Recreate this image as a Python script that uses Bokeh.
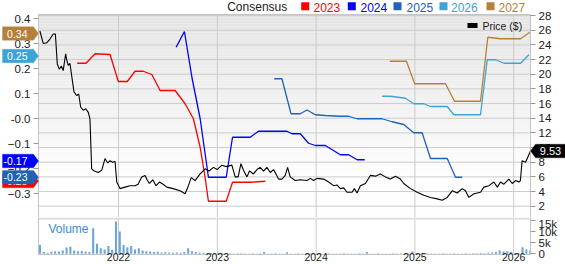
import numpy as np
from bokeh.plotting import figure
from bokeh.models import (Range1d, LinearAxis, FixedTicker, Label, BoxAnnotation,
                          PolyAnnotation, Grid)
from bokeh.layouts import column
from bokeh.embed import file_html
from bokeh.resources import INLINE

FONT = "Liberation Sans"

# ---------------- data ----------------
price_dates = [2021.204, 2021.238, 2021.275, 2021.306, 2021.339, 2021.361, 2021.380, 2021.400,
               2021.422, 2021.440, 2021.465, 2021.475, 2021.491, 2021.508, 2021.526, 2021.549,
               2021.576, 2021.597, 2021.617, 2021.643, 2021.668, 2021.694, 2021.711, 2021.728,
               2021.755, 2021.795, 2021.830, 2021.863, 2021.891, 2021.914, 2021.941, 2021.965,
               2021.982, 2022.015, 2022.066, 2022.117, 2022.167, 2022.198, 2022.235, 2022.269,
               2022.289, 2022.312, 2022.347, 2022.380, 2022.414, 2022.451, 2022.489, 2022.552,
               2022.623, 2022.674, 2022.708, 2022.735, 2022.775, 2022.826, 2022.877, 2022.917,
               2022.961, 2022.998, 2023.046, 2023.090, 2023.147, 2023.181, 2023.211, 2023.239,
               2023.265, 2023.300, 2023.326, 2023.366, 2023.401, 2023.434, 2023.468, 2023.502,
               2023.536, 2023.569, 2023.620, 2023.654, 2023.688, 2023.711, 2023.738, 2023.789,
               2023.840, 2023.908, 2023.941, 2023.975, 2024.009, 2024.076, 2024.127, 2024.177,
               2024.211, 2024.245, 2024.279, 2024.313, 2024.364, 2024.387, 2024.415, 2024.448,
               2024.499, 2024.549, 2024.600, 2024.651, 2024.701, 2024.752, 2024.803, 2024.853,
               2024.887, 2024.955, 2025.023, 2025.090, 2025.158, 2025.226, 2025.276, 2025.327,
               2025.378, 2025.428, 2025.479, 2025.512, 2025.546, 2025.597, 2025.664, 2025.698,
               2025.749, 2025.799, 2025.834, 2025.867, 2025.901, 2025.951, 2025.985, 2026.019,
               2026.053, 2026.068, 2026.085, 2026.120, 2026.137, 2026.170]
price_close = [25.9, 24.2, 24.3, 24.8, 25.5, 25.5, 21.4, 20.7,
               21.1, 20.5, 22.8, 22.0, 21.2, 21.5, 19.8, 17.6,
               17.1, 17.3, 15.5, 15.1, 15.3, 14.8, 13.9, 7.1,
               6.8, 6.6, 6.9, 8.5, 7.9, 8.2, 8.0, 8.1,
               5.3, 4.4, 4.6, 4.8, 4.8, 5.0, 6.0, 6.2,
               5.6, 5.1, 5.6, 4.8, 5.3, 5.0, 4.6, 4.4,
               4.1, 3.7, 4.8, 5.9, 5.5, 6.4, 7.1, 6.8,
               7.3, 7.0, 7.6, 7.4, 7.6, 6.0, 6.0, 7.8,
               6.9, 6.0, 6.8, 6.4, 7.0, 7.3, 6.8, 7.3,
               6.6, 7.0, 5.7, 5.7, 6.2, 7.3, 6.0, 5.5,
               5.6, 5.5, 5.8, 5.5, 5.8, 5.7, 5.3, 4.8,
               4.9, 4.4, 4.5, 3.9, 3.9, 4.4, 3.8, 4.8,
               5.1, 6.2, 6.1, 6.4, 6.0, 5.7, 6.1, 5.7,
               5.1, 4.4, 3.9, 3.5, 3.2, 3.0, 2.8, 3.2,
               4.1, 3.8, 4.4, 4.1, 3.2, 3.7, 3.9, 4.6,
               4.8, 5.3, 4.6, 5.3, 5.0, 5.7, 5.1, 5.5,
               5.3, 5.5, 8.2, 8.0, 8.5, 9.53]
last_price = 9.53

eps_2023_dates = [2021.582, 2021.671, 2021.762, 2021.914, 2021.998, 2022.089, 2022.167, 2022.251,
                  2022.337, 2022.421, 2022.573, 2022.674, 2022.758, 2022.826, 2022.877, 2022.910,
                  2023.090, 2023.154, 2023.333, 2023.485]
eps_2023 = [0.221, 0.221, 0.259, 0.256, 0.148, 0.148, 0.189, 0.189,
            0.176, 0.112, 0.112, 0.059, -0.001, -0.115, -0.237, -0.331,
            -0.331, -0.255, -0.255, -0.251]

eps_2024_dates = [2022.583, 2022.667, 2022.745, 2022.826, 2022.910, 2023.090, 2023.154, 2023.333,
                  2023.417, 2023.705, 2023.756, 2023.840, 2023.924, 2023.992, 2024.093, 2024.245,
                  2024.329, 2024.415, 2024.492]
eps_2024 = [0.285, 0.348, 0.160, 0.000, -0.235, -0.235, -0.075, -0.075,
            -0.051, -0.051, -0.061, -0.061, -0.099, -0.108, -0.108, -0.145,
            -0.145, -0.165, -0.165]

eps_2025_dates = [2023.576, 2023.654, 2023.746, 2023.840, 2023.908, 2023.992, 2024.093, 2024.228,
                  2024.329, 2024.415, 2024.668, 2024.769, 2024.887, 2024.988, 2025.073, 2025.158,
                  2025.327, 2025.411, 2025.479]
eps_2025 = [0.159, 0.159, 0.019, 0.019, 0.034, 0.015, 0.012, 0.009,
            0.009, -0.001, -0.001, -0.013, -0.024, -0.057, -0.057, -0.160,
            -0.160, -0.235, -0.235]

eps_2026_dates = [2024.668, 2024.752, 2024.904, 2024.988, 2025.090, 2025.158, 2025.327, 2025.394,
                  2025.664, 2025.732, 2025.817, 2025.901, 2026.070, 2026.154]
eps_2026 = [0.089, 0.089, 0.081, 0.059, 0.059, 0.048, 0.048, 0.015,
            0.015, 0.235, 0.235, 0.221, 0.221, 0.255]

eps_2027_dates = [2024.745, 2024.914, 2024.998, 2025.310, 2025.401, 2025.664, 2025.738, 2025.867,
                  2026.070, 2026.164]
eps_2027 = [0.229, 0.229, 0.139, 0.139, 0.069, 0.069, 0.325, 0.319,
            0.319, 0.345]

# consensus value tags on the left axis (latest value of each series)
tag_values = [-0.25, -0.235, -0.17, 0.25, 0.34]
tag_texts = ["-0.25", "-0.23", "-0.17", "0.25", "0.34"]

# biweekly volume, thousands of shares
vol_first = 2021.205
vol_step = 1 / 26
volume_k = [4.0, 0.8, 0.5, 0.9, 1.2, 1.0, 1.5, 2.8, 3.2, 1.5,
            1.2, 1.3, 1.0, 0.8, 11.5, 4.5, 2.5, 2.0, 3.5, 1.8,
            14.5, 10.0, 4.0, 3.0, 3.5, 2.0, 2.5, 1.5, 1.2, 1.0,
            0.8, 0.9, 0.6, 0.7, 0.6, 0.5, 0.6, 0.5, 0.8, 2.5,
            1.2, 0.8, 0.6, 0.5, 0.4, 0.4, 0.3, 0.4, 0.3, 0.3,
            0.3, 0.2, 0.3, 0.3, 0.2, 0.2, 0.3, 0.2, 0.3, 0.8,
            0.2, 0.2, 0.3, 0.2, 0.2, 0.7, 0.2, 0.2, 0.3, 0.2,
            0.2, 0.2, 0.3, 0.2, 0.2, 0.2, 0.3, 0.2, 0.2, 0.2,
            0.3, 0.2, 0.2, 0.2, 0.3, 0.2, 0.8, 0.2, 0.2, 0.3,
            0.2, 0.2, 0.2, 0.3, 0.2, 0.2, 0.3, 0.2, 1.0, 0.3,
            0.2, 0.2, 0.3, 0.2, 0.2, 0.2, 0.3, 0.2, 0.2, 0.3,
            0.2, 0.2, 0.3, 0.2, 0.3, 0.3, 0.4, 0.3, 0.5, 0.6,
            0.8, 1.5, 1.0, 1.2, 0.8, 0.4, 0.3, 3.0, 2.0, 1.5]
vol_dates = [vol_first + i * vol_step for i in range(len(volume_k))]

year_ticks = [2022, 2023, 2024, 2025, 2026]
price_ticks = [2, 4, 6, 8, 10, 12, 14, 16, 18, 20, 22, 24, 26, 28]
eps_ticks = [-0.3, -0.2, -0.1, 0.0, 0.1, 0.2, 0.3, 0.4]
vol_ticks = [0, 5, 10, 15]
series_years = ["2023", "2024", "2025", "2026", "2027"]

# ---------------- styles / geometry ----------------
C2023, C2024, C2025, C2026, C2027 = "#ff0000", "#0000ff", "#1f62b8", "#3fa2d4", "#b5813a"
GRID = "#cbcbcb"
EDGE = "#c4c4c4"
TXT = "#1a1a1a"
W = 565
PH, VH = 217, 47                      # heights of price and volume canvases
PL, PR, PT = 38, 530, 14              # plot-area edges inside the price canvas
XL, XR = 2021.19, 2026.17             # dates at plot-area left/right
PY0, PY1 = 0.46, 28.15                # price at plot-area bottom/top
EY0, EY1 = -0.396, 0.416              # eps at plot-area bottom/top
VY0, VY1 = -0.3, 16.35                # volume (k) at volume-area bottom/top
VB = 10                               # px below the volume area for the year labels

kx = (PR - PL) / (XR - XL)
x_range = Range1d(XL - PL / kx, XR + (W - PR) / kx)
ky = (PH - PT) / (PY1 - PY0)
ke = (PH - PT) / (EY1 - EY0)
kv = (VH - VB) / (VY1 - VY0)


def price_to_eps(val):
    return EY0 + (val - PY0) * (EY1 - EY0) / (PY1 - PY0)


def strip_grids(fig):
    fig.center = [r for r in fig.center if not isinstance(r, Grid)]


# ================= price / consensus panel =================
# default y range = consensus EPS (left axis); extra range = price (right axis)
p = figure(width=W, height=PH, x_range=x_range, y_range=Range1d(EY0, EY1 + PT / ke),
           output_backend="svg", toolbar_location=None, x_axis_location=None,
           y_axis_location=None, min_border=0)
p.extra_y_ranges = {"price": Range1d(PY0, PY1 + PT / ky)}
p.outline_line_color = None
p.background_fill_color = "white"
p.border_fill_color = "white"
strip_grids(p)

# background gradient (light grey at the top fading to white), drawn as thin bands
nb = 68
edges = np.linspace(EY0, EY1, nb + 1)
band_cols = []
for j in range(nb):
    from_top = 1 - (j + 0.5) / nb
    frac = min(1.0, from_top / 0.8)
    c = int(round(228 + (254 - 228) * frac))
    band_cols.append("#%02x%02x%02x" % (c, c, c))
p.quad(left=XL, right=XR, bottom=edges[:-1], top=edges[1:], fill_color=band_cols,
       line_color=None)

# grid lines and frame
p.segment(x0=XL, x1=XR, y0=price_ticks, y1=price_ticks, y_range_name="price",
          line_color=GRID, line_width=1)
p.segment(x0=year_ticks, x1=year_ticks, y0=EY0, y1=EY1, line_color=GRID, line_width=1)
p.quad(left=XL, right=XR, bottom=EY0, top=EY1, fill_color=None, line_color=EDGE, line_width=1)

# axes placed at the plot-area edges
la = LinearAxis(ticker=FixedTicker(ticks=eps_ticks), fixed_location=XL, bounds=(EY0, EY1))
la.major_label_overrides = {0: "-0.0"}
p.add_layout(la, "left")
ra = LinearAxis(y_range_name="price", ticker=FixedTicker(ticks=price_ticks),
                fixed_location=XR, bounds=(PY0, PY1))
p.add_layout(ra, "right")
for ax in (ra, la):
    ax.axis_line_color = EDGE
    ax.major_tick_line_color = "#999999"
    ax.major_tick_out = 5
    ax.major_tick_in = 0
    ax.minor_tick_line_color = None
    ax.major_label_standoff = 3
    ax.major_label_text_font = FONT
    ax.major_label_text_font_size = "11.5px"
    ax.major_label_text_color = TXT

# consensus lines
for xs, ys, col in [(eps_2023_dates, eps_2023, C2023), (eps_2024_dates, eps_2024, C2024),
                    (eps_2025_dates, eps_2025, C2025), (eps_2026_dates, eps_2026, C2026),
                    (eps_2027_dates, eps_2027, C2027)]:
    p.line(xs, ys, line_color=col, line_width=1.3)

# price line
p.line(price_dates, price_close, y_range_name="price", line_color="black", line_width=1.1)

# "Price ($)" key
p.add_layout(BoxAnnotation(left=467, right=477, bottom=PH - 27.5, top=PH - 22.5,
                           left_units="screen", right_units="screen", bottom_units="screen",
                           top_units="screen", fill_color="black", fill_alpha=1,
                           line_color=None))
p.add_layout(Label(x=482, x_units="screen", y=PH - 25, y_units="screen", text="Price ($)",
                   text_font=FONT, text_font_size="10.5px", text_color=TXT,
                   text_baseline="middle", text_align="left"))

# header: Consensus + coloured keys
p.add_layout(Label(x=226.7, x_units="screen", y=PH - 6.5, y_units="screen", text="Consensus",
                   text_font=FONT, text_font_size="12px", text_color=TXT,
                   text_baseline="middle", text_align="left"))
sq_left = [300.7, 347.3, 393.0, 439.0, 486.0]
txt_left = [313.0, 360.0, 406.0, 450.5, 498.0]
for col, yr, sl, tl in zip([C2023, C2024, C2025, C2026, C2027], series_years, sq_left, txt_left):
    p.add_layout(BoxAnnotation(left=sl, right=sl + 8, bottom=PH - 9.7, top=PH - 1.7,
                               left_units="screen", right_units="screen",
                               bottom_units="screen", top_units="screen",
                               fill_color=col, fill_alpha=1, line_color=None))
    p.add_layout(Label(x=tl, x_units="screen", y=PH - 6.5, y_units="screen", text=yr,
                       text_font=FONT, text_font_size="12px", text_color=col,
                       text_baseline="middle", text_align="left"))

# left value tags
tag_cols = [C2023, C2025, C2024, C2026, C2027]
half = 6.8 / ke
for val, t, col in zip(tag_values, tag_texts, tag_cols):
    p.add_layout(PolyAnnotation(xs=[2, PL - 5, PL, PL - 5, 2], xs_units="screen",
                                ys=[val - half, val - half, val, val + half, val + half],
                                ys_units="data", fill_color=col, fill_alpha=1,
                                line_color=col, line_width=1))
    p.add_layout(Label(x=27, x_units="screen", y=val, text=t,
                       text_font=FONT, text_font_size="10.5px", text_color="white",
                       text_baseline="middle", text_align="right"))

# right price tag
pe = price_to_eps(last_price)
p.add_layout(PolyAnnotation(xs=[PR, PR + 5, W, W, PR + 5], xs_units="screen",
                            ys=[pe, pe - half, pe - half, pe + half, pe + half],
                            fill_color="black", fill_alpha=1, line_color="black"))
p.add_layout(Label(x=550, x_units="screen", y=pe, text=f"{last_price:.2f}",
                   text_font=FONT, text_font_size="11px", text_color="white",
                   text_baseline="middle", text_align="center"))

# ================= volume panel =================
v = figure(width=W, height=VH, x_range=x_range, y_range=Range1d(VY0 - VB / kv, VY1),
           output_backend="svg", toolbar_location=None, x_axis_location=None,
           y_axis_location=None, min_border=0)
v.outline_line_color = None
v.background_fill_color = "white"
v.border_fill_color = "white"
strip_grids(v)

v.segment(x0=year_ticks, x1=year_ticks, y0=VY0, y1=VY1, line_color=GRID, line_width=1)
v.quad(left=XL, right=XR, bottom=VY1 - 0.9, top=VY1, fill_color="#dcdcdc", line_color=None)
v.vbar(x=vol_dates, top=volume_k, bottom=0, width=vol_step * 0.55,
       fill_color="#6aa6dc", line_color=None)
v.segment(x0=[XL, XR, XL], x1=[XL, XR, XR], y0=[VY0, VY0, VY0], y1=[VY1, VY1, VY0],
          line_color=EDGE, line_width=1)
v.add_layout(Label(x=48, x_units="screen", y=VH - 11.3, y_units="screen", text="Volume",
                   text_font=FONT, text_font_size="12px", text_color="#3a8cd2",
                   text_baseline="middle", text_align="left"))

xa = LinearAxis(ticker=FixedTicker(ticks=year_ticks), fixed_location=VY0 + 2 / kv,
                bounds=(XL, XR))
v.add_layout(xa, "below")
xa.major_label_text_font = FONT
xa.major_label_text_font_size = "10.5px"
xa.major_label_text_color = TXT
xa.major_label_standoff = 0
xa.major_tick_out = 0
xa.major_tick_in = 0
xa.minor_tick_line_color = None
xa.axis_line_color = None

va = LinearAxis(ticker=FixedTicker(ticks=vol_ticks), fixed_location=XR, bounds=(VY0, VY1))
v.add_layout(va, "right")
va.major_label_overrides = {0: "0", 5: "5k", 10: "10k", 15: "15k"}
va.axis_line_color = EDGE
va.major_tick_line_color = "#999999"
va.major_tick_out = 5
va.major_tick_in = 0
va.minor_tick_line_color = None
va.major_label_standoff = 3
va.major_label_text_font = FONT
va.major_label_text_font_size = "11.5px"
va.major_label_text_color = TXT

layout = column(p, v, spacing=0)
open("out.html", "w").write(file_html(layout, INLINE))
